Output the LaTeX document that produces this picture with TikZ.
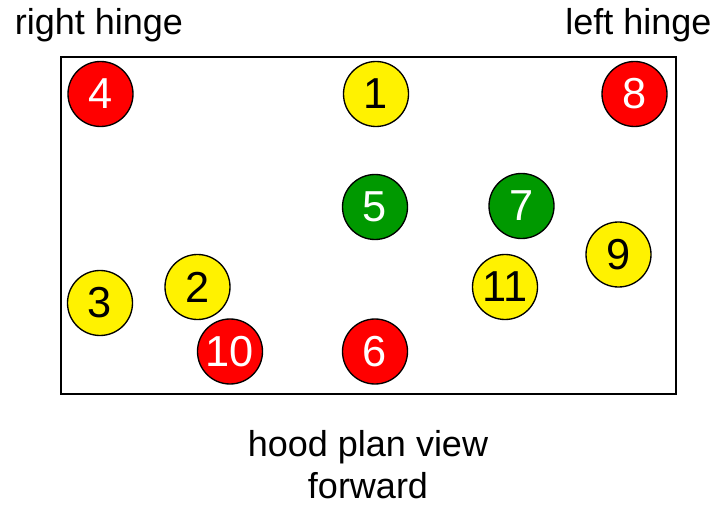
\documentclass[tikz,border=0pt]{standalone}
\usepackage{fontspec}
\setmainfont{Liberation Sans}
\begin{document}
\begin{tikzpicture}[x=0.75pt,y=-0.75pt,
  bolt/.style={circle,draw=black,line width=1pt,minimum size=48.75pt,inner sep=0pt,font=\fontsize{32.5}{32.5}\selectfont},
  redb/.style={bolt,fill=red,text=white},
  yelb/.style={bolt,fill=yellow,text=black},
  grnb/.style={bolt,fill={rgb,255:red,0;green,153;blue,0},text=white},
  lbl/.style={font=\fontsize{27}{27}\selectfont,anchor=base,inner sep=0pt}]
\useasboundingbox (0,0) rectangle (716,505);
\node[draw=black,line width=1.5pt,minimum width=461.25pt,minimum height=252.75pt,inner sep=0pt] (hood) at (368.5,225.5) {};
\node[lbl] (rh) at (99,35) {right hinge};
\node[lbl] (lh) at (638.5,35) {left hinge};
\node[lbl] (hp) at (368,456) {hood plan view};
\node[lbl] (fw) at (368,498) {forward};
\node[redb] (b4) at (100.5,94) {4};
\node[yelb] (b1) at (376,94) {1};
\node[redb] (b8) at (634.5,94) {8};
\node[grnb] (b5) at (375,207) {5};
\node[grnb] (b7) at (521.5,206) {7};
\node[yelb] (b9) at (618.5,254.5) {9};
\node[yelb] (b11) at (505,287) {11};
\node[yelb] (b2) at (197.5,287) {2};
\node[yelb] (b3) at (100,303) {3};
\node[redb] (b10) at (230,351.5) {10};
\node[redb] (b6) at (375,351.5) {6};
\end{tikzpicture}
\end{document}
